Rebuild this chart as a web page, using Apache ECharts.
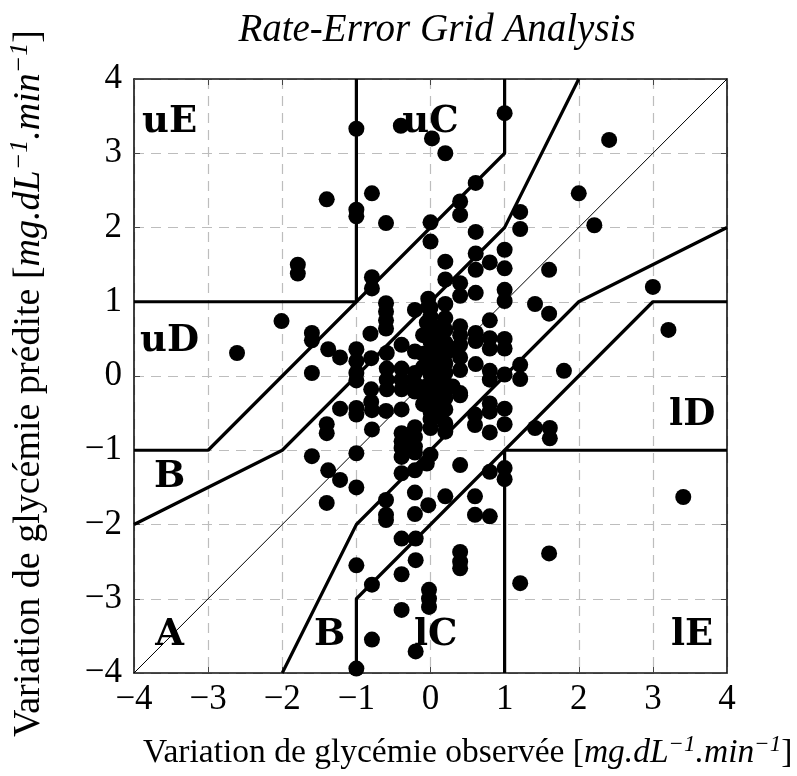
<!DOCTYPE html>
<html>
<head>
<meta charset="utf-8">
<script src="https://cdn.jsdelivr.net/npm/echarts@6/dist/echarts.min.js"></script>
<style>
html,body{margin:0;padding:0;background:#fff;}
#chart{width:797px;height:776px;}
</style>
</head>
<body>
<div id="chart"></div>
<script>
// Observed rate of change (x) and predicted rate of change (y), paired by index
var obsRate = [
 -1.00,-0.40,0.02,0.20,1.00,2.41,2.00,2.21,1.60,3.00,1.41,1.60,3.21,1.80,1.21,
 -1.40,-0.79,-1.00,-1.00,-0.60,-1.79,-1.79,-0.79,-0.79,0.00,0.00,-2.01,-2.61,-1.60,-1.60,
 -0.60,-0.60,-0.60,-0.60,-0.21,-0.03,-0.03,-0.81,-1.38,-1.22,-1.00,-1.00,-1.00,-1.00,-0.80,
 -0.59,-0.59,-0.59,-0.59,-0.39,-0.39,-0.39,-0.39,-0.21,-0.21,-0.21,-0.21,-1.60,-0.80,-0.80,
 0.61,0.40,0.40,0.61,1.21,1.21,0.20,0.61,0.61,0.80,1.00,1.00,0.20,0.40,0.40,0.61,1.00,1.00,
 0.20,0.80,0.61,0.61,0.80,0.80,1.00,1.00,0.40,0.20,0.61,0.80,0.80,1.00,1.21,0.40,0.40,
 -1.22,-1.00,-1.00,-0.79,-0.60,-0.39,-1.40,-1.40,-0.79,-0.39,-0.39,-0.39,-0.39,-0.21,-0.21,
 -0.21,-0.21,-1.60,-1.00,-1.38,-1.22,-1.00,-1.40,-0.39,-0.21,-0.05,-0.60,-0.60,-0.60,-0.21,
 -0.21,-0.03,-0.39,-0.20,-0.20,-1.00,-0.79,-0.39,-0.39,-0.79,-0.20,-1.00,-0.02,-0.02,-0.02,
 0.00,0.40,0.80,1.00,1.00,0.20,0.60,0.60,0.80,3.41,1.60,1.21,0.40,0.40,0.40,
 0.80,0.80,1.00,0.80,1.00,0.60,0.60,1.41,1.61,1.61,0.40,0.20,0.20,0.00,
 0.00,0.00,0.00,0.00,0.00,0.00,0.00,0.00,0.00,0.00,0.00,0.00,0.00,0.00,
 0.10,0.10,0.10,0.10,0.10,0.10,0.10,0.10,0.10,
 0.20,0.20,0.20,0.20,0.20,0.20,0.20,0.20,
 0.30,0.30,0.40,0.40,0.40,
 -0.10,-0.10,-0.10,-0.10,-0.10,-0.05,-0.05
];
var predRate = [
 3.33,3.37,3.20,3.00,3.54,3.18,2.46,2.03,1.43,1.20,0.97,0.84,0.62,0.07,0.15,
 2.38,2.46,2.24,2.15,2.06,1.50,1.38,1.33,1.18,2.07,1.81,0.74,0.31,0.58,0.48,
 0.98,0.87,0.75,0.64,0.89,1.04,0.93,0.57,0.36,0.25,0.36,0.20,0.04,-0.06,0.24,
 0.31,0.10,-0.05,-0.18,0.42,0.10,-0.05,-0.18,0.33,0.04,-0.10,-0.21,0.04,-0.18,-0.35,
 2.60,2.35,2.17,1.94,2.21,1.98,1.54,1.65,1.43,1.53,1.70,1.45,1.30,1.25,1.08,1.12,1.16,1.01,
 0.97,0.75,0.58,0.47,0.51,0.37,0.50,0.37,0.67,0.78,0.16,0.07,-0.05,0.02,-0.04,0.08,-0.23,
 -0.44,-0.43,-0.52,-0.46,-0.47,-0.45,-0.65,-0.77,-0.72,-0.77,-0.88,-0.97,-1.09,-0.69,-0.82,
 -0.95,-1.03,-1.08,-1.04,-1.27,-1.40,-1.50,-1.71,-1.31,-1.27,-1.18,-1.67,-1.87,-1.94,-1.57,
 -1.86,-1.74,-2.19,-2.19,-2.48,-2.55,-2.81,-2.67,-3.15,-3.55,-3.71,-3.94,-2.88,-3.00,-3.11,
 -1.06,-1.20,-1.29,-1.24,-1.39,-1.62,-1.62,-1.87,-1.89,-1.63,-2.39,-2.79,-2.37,-2.50,-2.59,
 -0.37,-0.48,-0.44,-0.76,-0.65,-0.52,-0.66,-0.70,-0.70,-0.84,-0.26,-0.64,-0.75,-0.37,
 0.92,0.80,0.68,0.57,0.46,0.35,0.24,0.13,0.02,-0.09,-0.20,-0.48,-0.58,-0.70,
 0.65,0.50,0.37,0.22,0.06,-0.12,-0.26,-0.42,-0.55,
 0.62,0.45,0.30,0.17,0.04,-0.10,-0.30,-0.45,
 0.36,-0.14,0.55,0.42,0.25,
 0.55,0.30,0.12,-0.15,-0.38,0.72,-0.30
];

// Zone boundaries of the rate-error grid
var zoneUpperAB = [[-4,-2],[-2,-1],[1,2],[2,4]];
var zoneUpperBC = [[-4,-1],[-3,-1],[1,3],[1,4]];
var zoneUpperCE = [[-4,1],[-1,1],[-1,4]];
var zoneLowerAB = [[-2,-4],[-1,-2],[2,1],[4,2]];
var zoneLowerBC = [[-1,-4],[-1,-3],[3,1],[4,1]];
var zoneLowerCE = [[1,-4],[1,-1],[4,-1]];
var identityLine = [[-4,-4],[4,4]];

// Zone names and where they sit
var zoneNames = ['uE','uC','uD','B','A','B','lC','lE','lD'];
var zoneNameX = [-3.52,0.0,-3.52,-3.52,-3.52,-1.36,0.07,3.53,3.53];
var zoneNameY = [3.42,3.42,0.46,-1.37,-3.5,-3.5,-3.5,-3.5,-0.53];

var xTickLabels = ['\u22124','\u22123','\u22122','\u22121','0','1','2','3','4'];
var yTickLabels = ['\u22124','\u22123','\u22122','\u22121','0','1','2','3','4'];

var SERIF = '"Liberation Serif", "DejaVu Serif", serif';
var BOLDSERIF = '"DejaVu Serif", "Liberation Serif", serif';

var points = obsRate.map(function(x,i){ return [x, predRate[i]]; });
var zoneLabelData = zoneNames.map(function(n,i){ return [zoneNameX[i], zoneNameY[i], n]; });

function lineSeries(data, w){
  return {type:'line', data:data, symbol:'none', silent:true, animation:false,
    lineStyle:{color:'#000', width:w}, z:3};
}
function axisTitle(label, size, supSize){
  return {
    text: label + ' [{i|mg.dL}{s|\u22121}{i|.min}{s|\u22121}]',
    fontFamily:SERIF, fontSize:size, fill:'#000',
    rich:{i:{fontFamily:SERIF, fontStyle:'italic', fontSize:size, lineHeight:size+6},
          s:{fontFamily:SERIF, fontStyle:'italic', fontSize:supSize, verticalAlign:'top', lineHeight:size+6}}
  };
}

var chart = echarts.init(document.getElementById('chart'), null, {renderer:'canvas'});
var axisCommon = {
  type:'value', min:-4, max:4, interval:1,
  axisLine:{show:true, onZero:false, lineStyle:{color:'#111', width:1.6}},
  axisTick:{show:true, inside:true, length:6, lineStyle:{color:'#444', width:1}}
};
var option = {
  backgroundColor:'#fff',
  animation:false,
  title:{
    text:'Rate-Error Grid Analysis',
    left:432, top:6, textAlign:'center',
    textStyle:{fontFamily:SERIF, fontStyle:'italic', fontWeight:'normal', fontSize:39, color:'#000'}
  },
  grid:{left:134, top:79, width:593, height:594, show:false},
  xAxis:[
    Object.assign({}, axisCommon, {
      position:'bottom',
      axisLabel:{margin:9, color:'#000', fontFamily:SERIF, fontSize:35,
        formatter:function(v){ return xTickLabels[Math.round(v)+4]; }},
      splitLine:{show:true, lineStyle:{color:'#bdbdbd', width:1.2, type:[10,7]}}
    }),
    Object.assign({}, axisCommon, {
      position:'top', axisLabel:{show:false}, splitLine:{show:false}
    })
  ],
  yAxis:[
    Object.assign({}, axisCommon, {
      position:'left',
      axisLabel:{margin:12, color:'#000', fontFamily:SERIF, fontSize:35,
        formatter:function(v){ return yTickLabels[Math.round(v)+4]; }},
      splitLine:{show:true, lineStyle:{color:'#bdbdbd', width:1.2, type:[10,7]}}
    }),
    Object.assign({}, axisCommon, {
      position:'right', axisLabel:{show:false}, splitLine:{show:false}
    })
  ],
  graphic:[
    {type:'text', left:143, top:733, z:10,
      style:axisTitle('Variation de glycémie observée', 33.5, 23)},
    {type:'text', x:7, y:737, rotation:Math.PI/2, z:10,
      style:axisTitle('Variation de glycémie prédite', 38, 26)}
  ],
  series:[
    lineSeries(identityLine, 1),
    lineSeries(zoneUpperAB, 3.2),
    lineSeries(zoneUpperBC, 3.2),
    lineSeries(zoneUpperCE, 3.2),
    lineSeries(zoneLowerAB, 3.2),
    lineSeries(zoneLowerBC, 3.2),
    lineSeries(zoneLowerCE, 3.2),
    {type:'scatter', data:points, symbol:'circle', symbolSize:16,
      itemStyle:{color:'#000', opacity:1}, z:4, silent:true, animation:false},
    {type:'scatter', data:zoneLabelData, symbolSize:2, itemStyle:{color:'rgba(0,0,0,0)'}, z:6, silent:true,
      animation:false,
      label:{show:true, position:'inside', color:'#000', opacity:1, textBorderWidth:0,
        fontFamily:BOLDSERIF, fontWeight:'bold', fontSize:37,
        formatter:function(p){ return p.data[2]; }}}
  ]
};
chart.setOption(option);
</script>
</body>
</html>
